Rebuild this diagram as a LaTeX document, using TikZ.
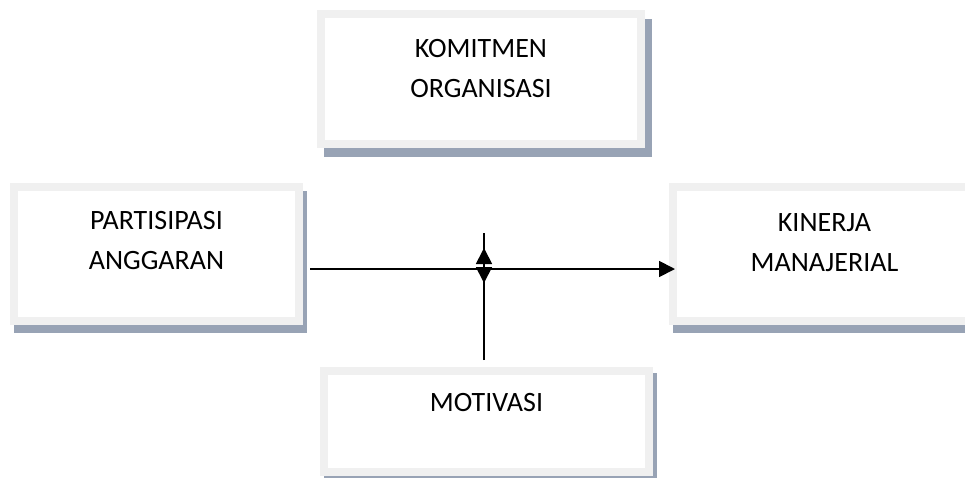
\documentclass[tikz,border=0pt]{standalone}
\usepackage{fontspec}
\setmainfont{Carlito}
\usetikzlibrary{arrows.meta}
\definecolor{framegrey}{HTML}{F0F0F0}
\definecolor{shadowgrey}{HTML}{98A3B5}
\begin{document}
\begin{tikzpicture}[x=1pt,y=-1pt,
  box/.style={draw=framegrey, line width=8pt, fill=white, inner sep=0pt, outer sep=0pt},
  shadowbox/.style={fill=shadowgrey, draw=none, inner sep=0pt, outer sep=0pt},
  lbl/.style={font=\fontsize{28}{40}\selectfont, align=center, inner sep=0pt, anchor=north},
  conn/.style={line width=1.8pt, -{Triangle[length=16pt,width=16pt]}}]
\useasboundingbox (0,0) rectangle (965,477);
% shadows
\node[shadowbox, minimum width=328pt, minimum height=138pt] (koms) at (488,88) {};
\node[shadowbox, minimum width=293pt, minimum height=142pt] (pars) at (160.5,262) {};
\node[shadowbox, minimum width=311pt, minimum height=142pt] (kins) at (828.5,262) {};
\node[shadowbox, minimum width=333pt, minimum height=109pt] (mots) at (490.5,427.5) {};
% boxes
\node[box, minimum width=320pt, minimum height=130pt] (kom) at (481,79) {};
\node[box, minimum width=285pt, minimum height=134pt] (par) at (156.5,254) {};
\node[box, minimum width=303pt, minimum height=134pt] (kin) at (824.5,254) {};
\node[box, minimum width=325pt, minimum height=101pt] (mot) at (486.5,421.5) {};
% labels
\node[lbl] (komt) at (481,39.5) {KOMITMEN\\ORGANISASI};
\node[lbl] (part) at (156.5,211.5) {PARTISIPASI\\ANGGARAN};
\node[lbl] (kint) at (824.5,213) {KINERJA\\MANAJERIAL};
\node[lbl] (mott) at (486.5,393) {MOTIVASI};
% connectors
\coordinate (vtop) at (484,233);
\coordinate (uptip) at (484,248);
\coordinate (dntip) at (484,283);
\draw[conn] ([xshift=11pt,yshift=-15pt]par.east) -- ([xshift=2pt,yshift=-15pt]kin.west);
\draw[conn] ([xshift=-2.5pt,yshift=11pt]mot.north) -- (uptip);
\draw[conn] (vtop) -- (dntip);
\end{tikzpicture}
\end{document}
